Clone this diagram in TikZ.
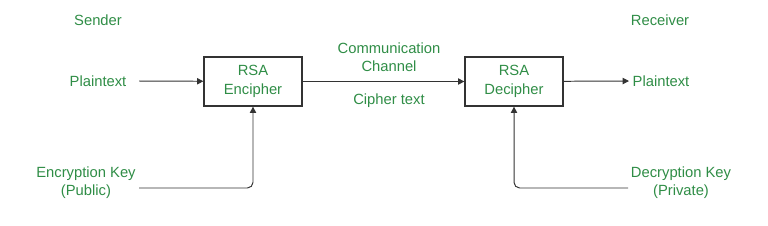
\documentclass[tikz,border=0pt]{standalone}
\usepackage{fontspec}
\setmainfont{Liberation Sans}
\usetikzlibrary{arrows.meta,positioning}
\definecolor{lbl}{HTML}{2F8D46}
\definecolor{ink}{HTML}{333333}

\begin{document}
\begin{tikzpicture}[
  x=0.025cm, y=-0.025cm,
  >={Triangle[length=4.5pt,width=4.5pt]},
  every node/.style={font=\fontsize{10.5}{13}\selectfont, text=lbl},
  box/.style={draw=ink, line width=0.9pt, minimum width=98*0.025cm,
              minimum height=49*0.025cm, align=center, inner sep=0pt},
  tag/.style={align=center, inner sep=0pt},
  flow/.style={->, ink, line width=0.7pt},
]
\useasboundingbox (0,0) rectangle (768,225);

\node[tag] (snd) at (98, 20) {Sender};
\node[tag] (rcv) at (660, 20) {Receiver};

\node[tag] (ptin) at (98, 81) {Plaintext};
\node[tag] (ptout) at (661, 81) {Plaintext};

\node[box] (enc) at (253, 81.5) {RSA\\Encipher};
\node[box] (dec) at (514, 81.5) {RSA\\Decipher};

\node[tag] (chan) at (389, 57) {Communication\\Channel};
\node[tag] (ctext) at (389, 101) {Cipher text};

\node[tag] (ekey) at (86, 183) {Encryption Key\\(Public)};
\node[tag] (dkey) at (681, 183) {Decryption Key\\(Private)};

\coordinate (ptin-out) at (139, 81);
\coordinate (ptout-in) at (629, 81);
\coordinate (ekey-out) at (139, 188);
\coordinate (dkey-out) at (628, 188);

\draw[flow] (ptin-out) -- (enc);
\draw[flow] (enc) -- (dec);
\draw[flow] (dec) -- (ptout-in);
\draw[flow, rounded corners=4pt] (ekey-out) -| (enc.south);
\draw[flow, rounded corners=4pt] (dkey-out) -| (dec.south);
\end{tikzpicture}
\end{document}
